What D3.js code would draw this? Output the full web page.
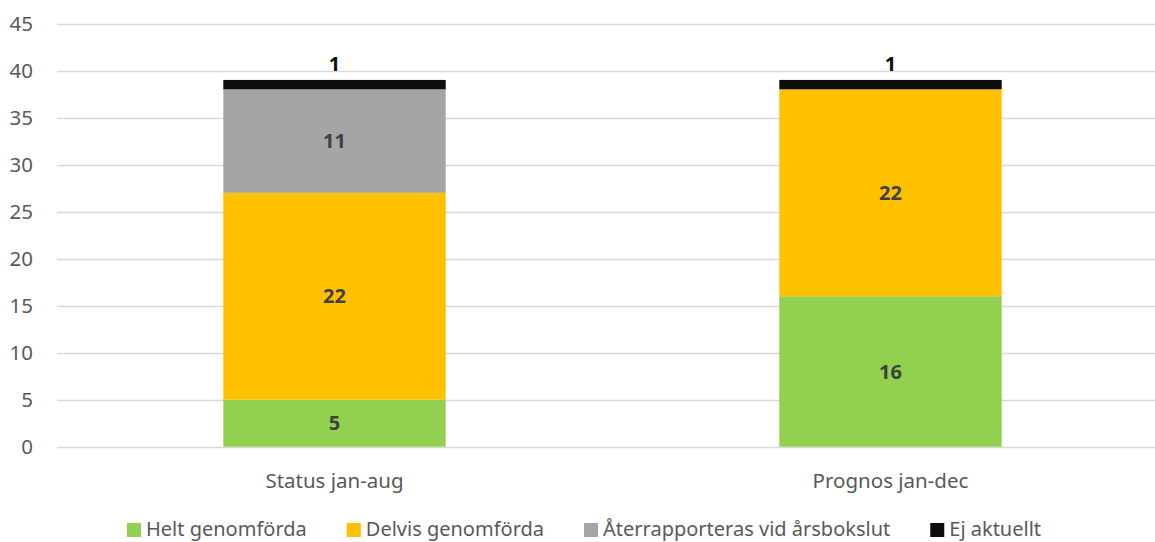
<!DOCTYPE html>
<html><head><meta charset="utf-8">
<script src="https://cdn.jsdelivr.net/npm/d3@7"></script>
<style>body{margin:0;background:#fff}svg{display:block}</style>
</head><body>
<svg id="c" width="1155" height="542"></svg>
<script>
const categories = ["Status jan-aug", "Prognos jan-dec"];
const seriesNames = ["Helt genomförda", "Delvis genomförda", "Återrapporteras vid årsbokslut", "Ej aktuellt"];
const helt = [5, 16];
const delvis = [22, 22];
const aterrapp = [11, 0];
const ejAktuellt = [1, 1];
const yTicks = [0, 5, 10, 15, 20, 25, 30, 35, 40, 45];
const colors = ["#92D050", "#FFC000", "#A5A5A5", "#0D0D0D"];

const svg = d3.select("#c");
const font = "'Noto Sans', 'Open Sans', sans-serif";
const x = d3.scaleBand().domain(categories).range([56.5, 1168.5]).padding(0);
const y = d3.scaleLinear().domain([0, 45]).range([446.7, 23.5]);

// grid
svg.append("g").selectAll("line").data(yTicks).join("line")
  .attr("x1", 57).attr("x2", 1155)
  .attr("y1", d => Math.round(y(d)) + 0.5).attr("y2", d => Math.round(y(d)) + 0.5)
  .attr("stroke", "#d9d9d9").attr("stroke-width", 1.5);

// y labels
svg.append("g").selectAll("text").data(yTicks).join("text")
  .attr("x", 33).attr("y", d => y(d)).attr("dy", "0.36em")
  .attr("text-anchor", "end").attr("font-family", font).attr("font-size", 20.5)
  .attr("fill", "#595959").text(d => d);

const rows = categories.map((c, i) => ({cat: c, vals: [helt[i], delvis[i], aterrapp[i], ejAktuellt[i]]}));
const stack = d3.stack().keys([0, 1, 2, 3]).value((d, k) => d.vals[k])(rows);

const bw = x.bandwidth() * 0.4;
const bx = c => x(c) + (x.bandwidth() - bw) / 2;

stack.forEach((layer, k) => {
  svg.append("g").selectAll("rect").data(layer.filter(d => d[1] > d[0])).join("rect")
    .attr("x", d => bx(d.data.cat)).attr("width", bw)
    .attr("y", d => y(d[1])).attr("height", d => y(d[0]) - y(d[1]))
    .attr("fill", colors[k]);
});

// labels
stack.forEach((layer, k) => {
  svg.append("g").selectAll("text").data(layer.filter(d => d[1] > d[0])).join("text")
    .attr("x", d => bx(d.data.cat) + bw / 2)
    .attr("y", d => k === 3 ? y(d[1]) - 9 : y((d[0] + d[1]) / 2))
    .attr("dy", k === 3 ? "0" : "0.36em")
    .attr("text-anchor", "middle").attr("font-family", font).attr("font-size", 20)
    .attr("font-weight", "bold").attr("fill", k === 3 ? "#0D0D0D" : "#404040")
    .text(d => d[1] - d[0]);
});

// category labels
svg.append("g").selectAll("text").data(categories).join("text")
  .attr("x", d => x(d) + x.bandwidth() / 2).attr("y", 488)
  .attr("text-anchor", "middle").attr("font-family", font).attr("font-size", 20.5)
  .attr("fill", "#595959").text(d => d);

// legend
const lg = svg.append("g");
let lx = 127;
seriesNames.forEach((n, i) => {
  lg.append("rect").attr("x", lx).attr("y", 523).attr("width", 14).attr("height", 14).attr("fill", colors[i]);
  const t = lg.append("text").attr("x", lx + 19).attr("y", 536).attr("font-family", font)
    .attr("font-size", 20).attr("fill", "#595959").text(n);
  lx += 19 + t.node().getComputedTextLength() + 40;
});
</script>
</body></html>
